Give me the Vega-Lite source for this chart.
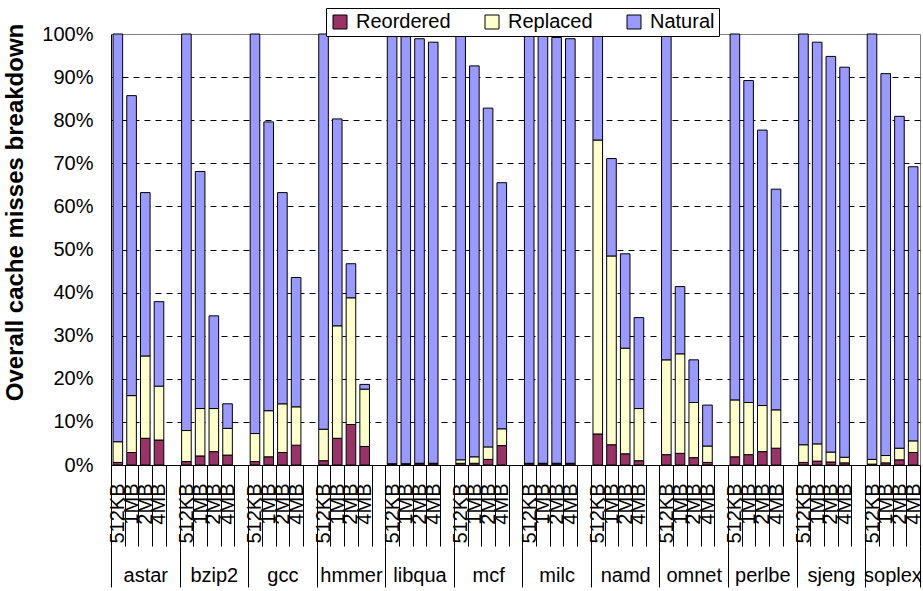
{
  "$schema": "https://vega.github.io/schema/vega-lite/v6.json",
  "width": 809,
  "height": 431,
  "autosize": {"type": "none"},
  "padding": {"left": 111, "top": 34, "right": 3, "bottom": 126},
  "background": "white",
  "config": {"font": "Liberation Sans", "view": {"stroke": "#808080", "strokeWidth": 1}},
  "data": {"values": [
    {"b":"astar","s":"512KB","t":"Reordered","v":0.6},{"b":"astar","s":"512KB","t":"Replaced","v":4.8},{"b":"astar","s":"512KB","t":"Natural","v":94.6},
    {"b":"astar","s":"1MB","t":"Reordered","v":2.9},{"b":"astar","s":"1MB","t":"Replaced","v":13.2},{"b":"astar","s":"1MB","t":"Natural","v":69.6},
    {"b":"astar","s":"2MB","t":"Reordered","v":6.2},{"b":"astar","s":"2MB","t":"Replaced","v":19.1},{"b":"astar","s":"2MB","t":"Natural","v":37.9},
    {"b":"astar","s":"4MB","t":"Reordered","v":5.8},{"b":"astar","s":"4MB","t":"Replaced","v":12.5},{"b":"astar","s":"4MB","t":"Natural","v":19.6},
    {"b":"bzip2","s":"512KB","t":"Reordered","v":0.8},{"b":"bzip2","s":"512KB","t":"Replaced","v":7.2},{"b":"bzip2","s":"512KB","t":"Natural","v":92.0},
    {"b":"bzip2","s":"1MB","t":"Reordered","v":2.1},{"b":"bzip2","s":"1MB","t":"Replaced","v":11.0},{"b":"bzip2","s":"1MB","t":"Natural","v":55.0},
    {"b":"bzip2","s":"2MB","t":"Reordered","v":3.1},{"b":"bzip2","s":"2MB","t":"Replaced","v":10.0},{"b":"bzip2","s":"2MB","t":"Natural","v":21.5},
    {"b":"bzip2","s":"4MB","t":"Reordered","v":2.3},{"b":"bzip2","s":"4MB","t":"Replaced","v":6.2},{"b":"bzip2","s":"4MB","t":"Natural","v":5.7},
    {"b":"gcc","s":"512KB","t":"Reordered","v":0.8},{"b":"gcc","s":"512KB","t":"Replaced","v":6.5},{"b":"gcc","s":"512KB","t":"Natural","v":92.7},
    {"b":"gcc","s":"1MB","t":"Reordered","v":1.9},{"b":"gcc","s":"1MB","t":"Replaced","v":10.7},{"b":"gcc","s":"1MB","t":"Natural","v":67.0},
    {"b":"gcc","s":"2MB","t":"Reordered","v":2.9},{"b":"gcc","s":"2MB","t":"Replaced","v":11.3},{"b":"gcc","s":"2MB","t":"Natural","v":49.0},
    {"b":"gcc","s":"4MB","t":"Reordered","v":4.6},{"b":"gcc","s":"4MB","t":"Replaced","v":8.9},{"b":"gcc","s":"4MB","t":"Natural","v":30.0},
    {"b":"hmmer","s":"512KB","t":"Reordered","v":1.0},{"b":"hmmer","s":"512KB","t":"Replaced","v":7.3},{"b":"hmmer","s":"512KB","t":"Natural","v":91.7},
    {"b":"hmmer","s":"1MB","t":"Reordered","v":6.2},{"b":"hmmer","s":"1MB","t":"Replaced","v":26.1},{"b":"hmmer","s":"1MB","t":"Natural","v":48.0},
    {"b":"hmmer","s":"2MB","t":"Reordered","v":9.4},{"b":"hmmer","s":"2MB","t":"Replaced","v":29.4},{"b":"hmmer","s":"2MB","t":"Natural","v":7.9},
    {"b":"hmmer","s":"4MB","t":"Reordered","v":4.3},{"b":"hmmer","s":"4MB","t":"Replaced","v":13.3},{"b":"hmmer","s":"4MB","t":"Natural","v":1.1},
    {"b":"libqua","s":"512KB","t":"Reordered","v":0.2},{"b":"libqua","s":"512KB","t":"Replaced","v":0.1},{"b":"libqua","s":"512KB","t":"Natural","v":99.7},
    {"b":"libqua","s":"1MB","t":"Reordered","v":0.2},{"b":"libqua","s":"1MB","t":"Replaced","v":0.1},{"b":"libqua","s":"1MB","t":"Natural","v":99.1},
    {"b":"libqua","s":"2MB","t":"Reordered","v":0.3},{"b":"libqua","s":"2MB","t":"Replaced","v":0.1},{"b":"libqua","s":"2MB","t":"Natural","v":98.5},
    {"b":"libqua","s":"4MB","t":"Reordered","v":0.3},{"b":"libqua","s":"4MB","t":"Replaced","v":0.1},{"b":"libqua","s":"4MB","t":"Natural","v":97.7},
    {"b":"mcf","s":"512KB","t":"Reordered","v":0.4},{"b":"mcf","s":"512KB","t":"Replaced","v":0.8},{"b":"mcf","s":"512KB","t":"Natural","v":98.8},
    {"b":"mcf","s":"1MB","t":"Reordered","v":0.4},{"b":"mcf","s":"1MB","t":"Replaced","v":1.5},{"b":"mcf","s":"1MB","t":"Natural","v":90.7},
    {"b":"mcf","s":"2MB","t":"Reordered","v":1.3},{"b":"mcf","s":"2MB","t":"Replaced","v":2.9},{"b":"mcf","s":"2MB","t":"Natural","v":78.6},
    {"b":"mcf","s":"4MB","t":"Reordered","v":4.5},{"b":"mcf","s":"4MB","t":"Replaced","v":3.9},{"b":"mcf","s":"4MB","t":"Natural","v":57.1},
    {"b":"milc","s":"512KB","t":"Reordered","v":0.3},{"b":"milc","s":"512KB","t":"Replaced","v":0.1},{"b":"milc","s":"512KB","t":"Natural","v":99.6},
    {"b":"milc","s":"1MB","t":"Reordered","v":0.3},{"b":"milc","s":"1MB","t":"Replaced","v":0.1},{"b":"milc","s":"1MB","t":"Natural","v":99.2},
    {"b":"milc","s":"2MB","t":"Reordered","v":0.3},{"b":"milc","s":"2MB","t":"Replaced","v":0.1},{"b":"milc","s":"2MB","t":"Natural","v":98.8},
    {"b":"milc","s":"4MB","t":"Reordered","v":0.3},{"b":"milc","s":"4MB","t":"Replaced","v":0.1},{"b":"milc","s":"4MB","t":"Natural","v":98.5},
    {"b":"namd","s":"512KB","t":"Reordered","v":7.2},{"b":"namd","s":"512KB","t":"Replaced","v":68.2},{"b":"namd","s":"512KB","t":"Natural","v":24.6},
    {"b":"namd","s":"1MB","t":"Reordered","v":4.7},{"b":"namd","s":"1MB","t":"Replaced","v":43.8},{"b":"namd","s":"1MB","t":"Natural","v":22.6},
    {"b":"namd","s":"2MB","t":"Reordered","v":2.6},{"b":"namd","s":"2MB","t":"Replaced","v":24.5},{"b":"namd","s":"2MB","t":"Natural","v":21.9},
    {"b":"namd","s":"4MB","t":"Reordered","v":1.0},{"b":"namd","s":"4MB","t":"Replaced","v":12.1},{"b":"namd","s":"4MB","t":"Natural","v":21.1},
    {"b":"omnet","s":"512KB","t":"Reordered","v":2.4},{"b":"omnet","s":"512KB","t":"Replaced","v":22.0},{"b":"omnet","s":"512KB","t":"Natural","v":75.6},
    {"b":"omnet","s":"1MB","t":"Reordered","v":2.7},{"b":"omnet","s":"1MB","t":"Replaced","v":23.1},{"b":"omnet","s":"1MB","t":"Natural","v":15.6},
    {"b":"omnet","s":"2MB","t":"Reordered","v":1.7},{"b":"omnet","s":"2MB","t":"Replaced","v":12.8},{"b":"omnet","s":"2MB","t":"Natural","v":9.9},
    {"b":"omnet","s":"4MB","t":"Reordered","v":0.6},{"b":"omnet","s":"4MB","t":"Replaced","v":3.8},{"b":"omnet","s":"4MB","t":"Natural","v":9.5},
    {"b":"perlbe","s":"512KB","t":"Reordered","v":1.9},{"b":"perlbe","s":"512KB","t":"Replaced","v":13.2},{"b":"perlbe","s":"512KB","t":"Natural","v":84.9},
    {"b":"perlbe","s":"1MB","t":"Reordered","v":2.4},{"b":"perlbe","s":"1MB","t":"Replaced","v":12.1},{"b":"perlbe","s":"1MB","t":"Natural","v":74.7},
    {"b":"perlbe","s":"2MB","t":"Reordered","v":3.1},{"b":"perlbe","s":"2MB","t":"Replaced","v":10.7},{"b":"perlbe","s":"2MB","t":"Natural","v":63.9},
    {"b":"perlbe","s":"4MB","t":"Reordered","v":3.9},{"b":"perlbe","s":"4MB","t":"Replaced","v":8.9},{"b":"perlbe","s":"4MB","t":"Natural","v":51.2},
    {"b":"sjeng","s":"512KB","t":"Reordered","v":0.6},{"b":"sjeng","s":"512KB","t":"Replaced","v":4.1},{"b":"sjeng","s":"512KB","t":"Natural","v":95.3},
    {"b":"sjeng","s":"1MB","t":"Reordered","v":0.9},{"b":"sjeng","s":"1MB","t":"Replaced","v":4.0},{"b":"sjeng","s":"1MB","t":"Natural","v":93.2},
    {"b":"sjeng","s":"2MB","t":"Reordered","v":0.7},{"b":"sjeng","s":"2MB","t":"Replaced","v":2.3},{"b":"sjeng","s":"2MB","t":"Natural","v":91.8},
    {"b":"sjeng","s":"4MB","t":"Reordered","v":0.5},{"b":"sjeng","s":"4MB","t":"Replaced","v":1.3},{"b":"sjeng","s":"4MB","t":"Natural","v":90.5},
    {"b":"soplex","s":"512KB","t":"Reordered","v":0.2},{"b":"soplex","s":"512KB","t":"Replaced","v":1.1},{"b":"soplex","s":"512KB","t":"Natural","v":98.7},
    {"b":"soplex","s":"1MB","t":"Reordered","v":0.5},{"b":"soplex","s":"1MB","t":"Replaced","v":1.7},{"b":"soplex","s":"1MB","t":"Natural","v":88.6},
    {"b":"soplex","s":"2MB","t":"Reordered","v":1.2},{"b":"soplex","s":"2MB","t":"Replaced","v":2.7},{"b":"soplex","s":"2MB","t":"Natural","v":77.0},
    {"b":"soplex","s":"4MB","t":"Reordered","v":2.9},{"b":"soplex","s":"4MB","t":"Replaced","v":2.7},{"b":"soplex","s":"4MB","t":"Natural","v":63.6}
  ]},
  "transform": [
    {"calculate": "datum.b + '|' + datum.s", "as": "key"},
    {"calculate": "indexof(['Reordered','Replaced','Natural'], datum.t)", "as": "ord"}
  ],
  "resolve": {"axis": {"x": "independent"}},
  "layer": [
    {
      "mark": {"type": "bar", "stroke": "black", "strokeWidth": 1, "width": {"band": 0.7}},
      "encoding": {
        "x": {
          "field": "key", "type": "nominal",
          "scale": {
            "type": "band", "paddingInner": 0, "paddingOuter": 0,
            "domain": ["astar|512KB","astar|1MB","astar|2MB","astar|4MB","astar|",
                       "bzip2|512KB","bzip2|1MB","bzip2|2MB","bzip2|4MB","bzip2|",
                       "gcc|512KB","gcc|1MB","gcc|2MB","gcc|4MB","gcc|",
                       "hmmer|512KB","hmmer|1MB","hmmer|2MB","hmmer|4MB","hmmer|",
                       "libqua|512KB","libqua|1MB","libqua|2MB","libqua|4MB","libqua|",
                       "mcf|512KB","mcf|1MB","mcf|2MB","mcf|4MB","mcf|",
                       "milc|512KB","milc|1MB","milc|2MB","milc|4MB","milc|",
                       "namd|512KB","namd|1MB","namd|2MB","namd|4MB","namd|",
                       "omnet|512KB","omnet|1MB","omnet|2MB","omnet|4MB","omnet|",
                       "perlbe|512KB","perlbe|1MB","perlbe|2MB","perlbe|4MB","perlbe|",
                       "sjeng|512KB","sjeng|1MB","sjeng|2MB","sjeng|4MB","sjeng|",
                       "soplex|512KB","soplex|1MB","soplex|2MB","soplex|4MB"]
          },
          "axis": {
            "orient": "bottom", "title": null, "grid": false,
            "domainColor": "black", "domainWidth": 1,
            "tickBand": "extent", "tickColor": "black", "tickSize": 81, "tickWidth": 1,
            "labelExpr": "split(datum.value, '|')[1]",
            "labelAngle": -90, "labelAlign": "right", "labelBaseline": "middle",
            "labelPadding": -63, "labelFontSize": 20, "labelColor": "black",
            "labelOverlap": false
          }
        },
        "y": {
          "field": "v", "type": "quantitative", "stack": "zero",
          "scale": {"domain": [0, 100], "nice": false},
          "axis": {
            "title": "Overall cache misses breakdown",
            "titleFontSize": 24, "titleFontWeight": "bold", "titleColor": "black", "titlePadding": 14,
            "titleY": 178, "titleAlign": "center",
            "values": [0,10,20,30,40,50,60,70,80,90,100],
            "labelExpr": "datum.value + '%'",
            "labelFontSize": 20, "labelColor": "black", "labelPadding": 18,
            "ticks": false, "domainColor": "black",
            "grid": true, "gridColor": "black", "gridDash": [6, 5], "gridWidth": 1,
            "gridOpacity": {"condition": {"test": "datum.value == 100 || datum.value == 0", "value": 0}, "value": 1}
          }
        },
        "color": {
          "field": "t", "type": "nominal",
          "scale": {"domain": ["Reordered", "Replaced", "Natural"], "range": ["#993366", "#FFFFCC", "#9999FF"]},
          "legend": {
            "title": null, "orient": "none", "direction": "horizontal",
            "legendX": 215, "legendY": -26,
            "strokeColor": "black", "fillColor": "white", "padding": 4,
            "symbolType": "square", "symbolSize": 196, "symbolStrokeColor": "black", "symbolStrokeWidth": 1,
            "labelFontSize": 20, "labelColor": "black", "labelOffset": 6, "columnPadding": 31
          }
        },
        "order": {"field": "ord", "type": "quantitative"}
      }
    },
    {
      "mark": {"type": "bar", "opacity": 0},
      "encoding": {
        "x": {
          "field": "key", "type": "nominal",
          "axis": {
            "orient": "bottom", "title": null, "grid": false, "domain": false, "offset": 81,
            "tickBand": "extent", "tickColor": "black", "tickSize": 41, "tickWidth": 1,
            "tickOpacity": {"condition": {"test": "split(datum.value, '|')[1] == '' || datum.extra || datum.value == 'soplex|4MB'", "value": 1}, "value": 0},
            "labelExpr": "split(datum.value, '|')[1] == '2MB' ? split(datum.value, '|')[0] : ''",
            "labelAngle": 0, "labelAlign": "center", "labelBaseline": "top",
            "labelPadding": -22, "labelFontSize": 20, "labelColor": "black",
            "labelOverlap": false,
            "labelOffset": {"condition": {"test": "datum.value == 'soplex|2MB'", "value": -7}, "value": 0}
          }
        }
      }
    }
  ]
}
